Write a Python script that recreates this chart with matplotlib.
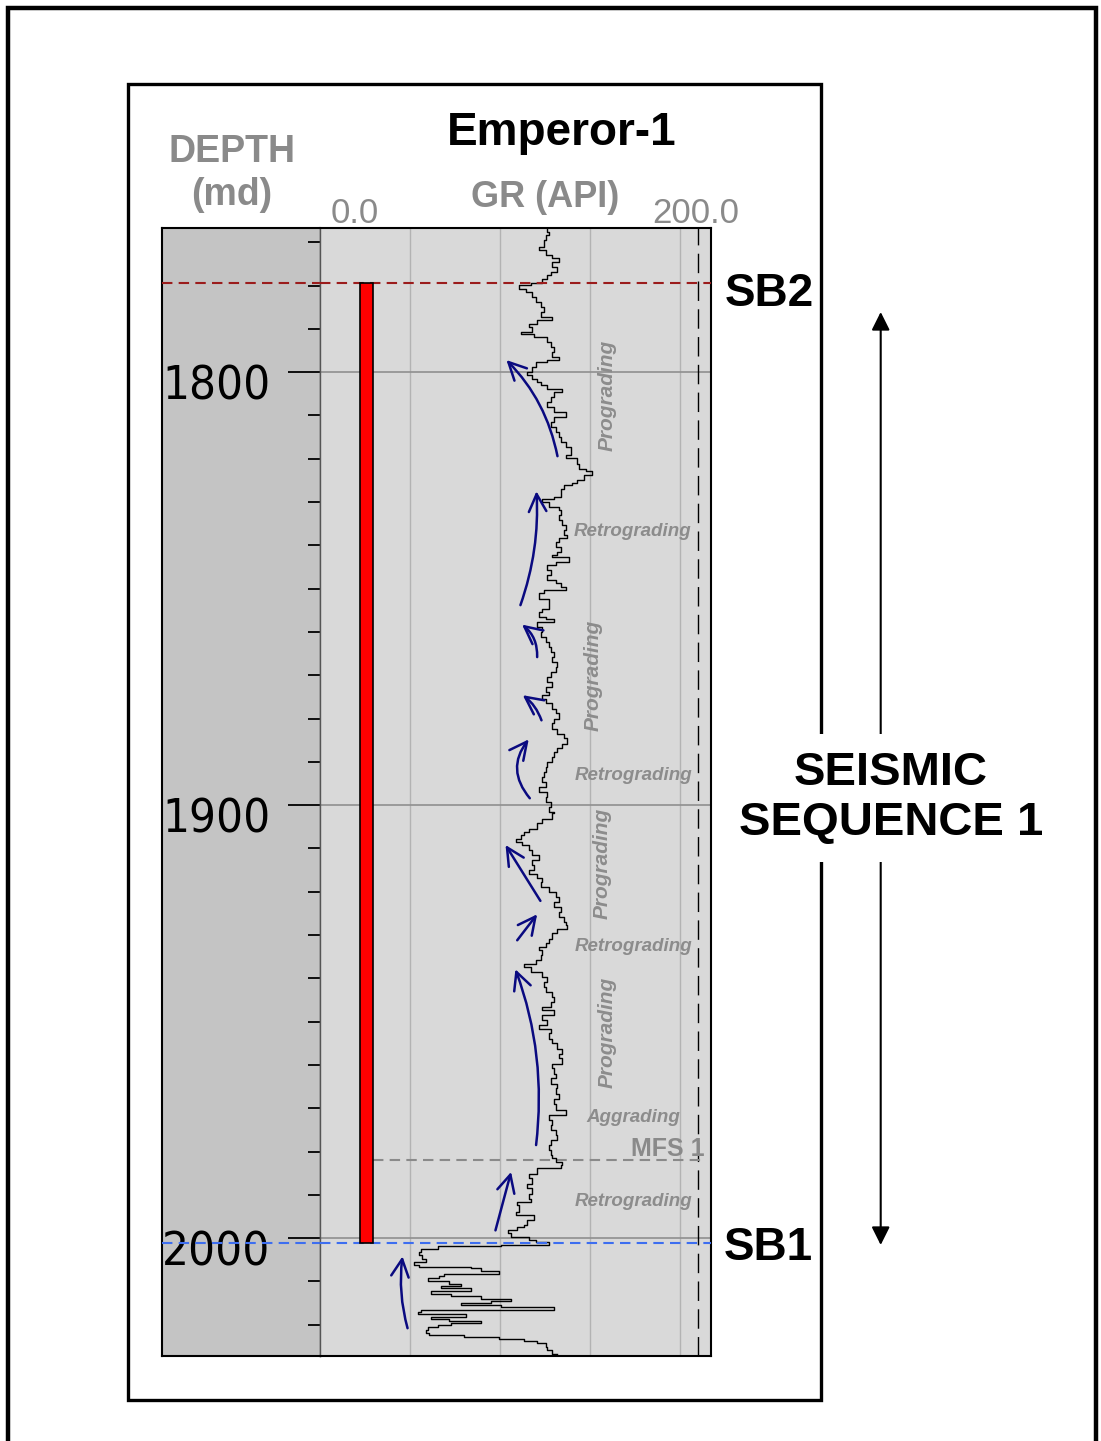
import matplotlib
matplotlib.use("Agg")
import matplotlib.pyplot as plt
import matplotlib.transforms as mtransforms
from matplotlib import font_manager
from matplotlib.patches import Rectangle, FancyArrowPatch

# ---- data ----
depth = [1766.7, 1767.6, 1768.4, 1769.5, 1771.0, 1771.8, 1773.0, 1773.7, 1774.5, 1775.7,
         1776.8, 1777.6, 1778.4, 1779.3, 1779.9, 1780.7, 1781.4, 1782.6, 1783.8, 1784.9,
         1786.1, 1787.2, 1788.0, 1788.8, 1789.5, 1790.7, 1791.1, 1791.8, 1793.0, 1794.2,
         1795.3, 1796.5, 1797.2, 1797.6, 1798.8, 1799.9, 1800.7, 1801.5, 1802.2, 1803.0,
         1803.8, 1804.5, 1805.7, 1806.9, 1808.0, 1809.2, 1810.3, 1811.5,
         1812.6, 1813.8, 1814.9, 1816.1, 1817.2, 1818.4, 1819.2, 1819.9, 1821.1, 1822.3,
         1822.8, 1823.8, 1825.0, 1825.7, 1826.1, 1826.9, 1828.0, 1828.8, 1829.4, 1830.0,
         1831.1, 1831.9, 1833.0, 1834.2, 1835.3, 1836.5, 1837.7, 1838.4, 1839.2, 1840.3,
         1841.5, 1842.3, 1842.7, 1843.8, 1844.6, 1845.7, 1846.9, 1848.1, 1848.8, 1849.6,
         1850.4, 1851.1, 1852.3, 1853.4, 1854.6, 1855.4, 1856.5,
         1856.9, 1857.7, 1858.8, 1860.0, 1861.1, 1862.3, 1863.4, 1864.6, 1865.7, 1866.9,
         1868.1, 1869.2, 1870.4, 1871.5, 1872.7, 1873.8, 1874.6, 1875.4, 1876.5, 1877.7,
         1878.8, 1880.0, 1881.1, 1882.3, 1883.5, 1884.6, 1885.8, 1886.9, 1887.7, 1888.8,
         1890.0, 1891.2, 1892.3, 1893.5, 1894.6, 1895.8, 1896.9, 1898.1, 1899.2, 1900.4,
         1901.5,
         1901.9, 1903.1, 1904.2, 1905.4, 1906.2, 1906.9, 1907.7, 1908.5, 1909.2, 1910.4,
         1911.5, 1912.7, 1913.9, 1915.0, 1915.8, 1916.9, 1917.7, 1918.9, 1920.0, 1921.2,
         1922.3, 1923.5, 1924.6, 1925.8, 1926.9, 1927.7, 1928.5, 1929.6, 1930.8, 1931.9,
         1932.7, 1933.5, 1934.6, 1935.8, 1936.6, 1937.3, 1938.5, 1939.7, 1940.8, 1942.0,
         1943.1, 1944.3, 1945.4, 1946.6,
         1947.3, 1948.5, 1949.7, 1950.8, 1951.6, 1952.7, 1953.9, 1955.0, 1956.2, 1957.4,
         1958.5, 1959.7, 1960.8, 1962.0, 1963.1, 1964.3, 1965.4, 1966.6, 1967.8, 1968.9,
         1970.5, 1971.6, 1972.8, 1973.9, 1975.1, 1976.2, 1977.4, 1978.5, 1979.7, 1980.8,
         1981.6, 1982.4, 1983.2, 1983.9, 1985.1, 1986.2, 1987.4, 1988.5, 1989.7, 1990.9,
         1991.6, 1992.4, 1993.9, 1994.7, 1995.8, 1997.0, 1997.4, 1998.2, 1998.9, 1999.7,
         2000.5, 2001.0, 2001.5, 2001.8, 2002.4, 2003.2, 2003.9, 2004.7, 2005.5, 2006.2,
         2006.6, 2007.0, 2007.5, 2008.2, 2008.8, 2009.3, 2009.9, 2010.5, 2011.1, 2011.6,
         2012.2, 2012.8, 2013.4, 2014.0, 2014.5, 2014.9, 2015.5, 2016.0, 2016.5, 2017.0,
         2017.6, 2018.2, 2018.6, 2019.1, 2019.6, 2020.1, 2020.6, 2021.2, 2021.9, 2022.4,
         2022.8, 2023.2, 2023.7, 2024.3, 2025.1, 2025.9, 2026.8]

gr = [126.5, 127.4, 125.6, 124.6, 121.9, 125.6, 129.3, 133.0, 129.3, 132.0,
      128.3, 126.5, 123.7, 117.2, 110.7, 114.4, 118.2, 120.0, 122.8, 124.6,
      122.8, 129.3, 120.9, 116.3, 118.2, 111.7, 119.1, 126.5, 128.3, 130.2,
      129.3, 133.0, 126.5, 120.0, 118.2, 115.4, 118.2, 120.9, 122.8, 126.5,
      134.8, 130.2, 128.3, 126.5, 130.2, 136.7, 130.2, 128.3,
      131.1, 133.0, 133.9, 136.7, 139.4, 139.4, 136.7, 143.2, 144.1, 147.8,
      151.5, 146.9, 143.2, 140.4, 135.7, 133.9, 133.9, 130.2, 123.7, 127.4,
      133.0, 133.9, 133.0, 134.8, 136.7, 135.7, 137.6, 133.0, 131.1, 133.9,
      132.0, 129.3, 138.5, 131.1, 126.5, 128.3, 126.5, 131.1, 133.9, 136.7,
      124.6, 121.9, 127.4, 127.4, 123.7, 121.9, 125.6,
      130.2, 120.9, 123.7, 122.8, 125.6, 127.4, 128.3, 130.2, 129.3, 132.0,
      131.1, 128.3, 126.5, 129.3, 125.6, 127.4, 123.7, 125.6, 129.3, 131.1,
      133.0, 130.2, 129.3, 132.0, 135.7, 137.6, 134.8, 132.0, 130.2, 129.3,
      126.5, 125.6, 124.6, 123.7, 125.6, 121.9, 126.5, 125.6, 128.3, 127.4,
      130.2,
      129.3, 123.7, 120.9, 116.3, 113.5, 111.7, 108.9, 112.6, 116.3, 118.2,
      121.9, 118.2, 119.1, 116.3, 120.9, 123.7, 122.8, 127.4, 131.1, 133.0,
      130.2, 133.9, 133.0, 135.7, 136.7, 137.6, 132.0, 129.3, 127.4, 125.6,
      121.9, 123.7, 122.8, 120.0, 113.5, 117.2, 123.7, 126.5, 124.6, 125.6,
      129.3, 130.2, 128.3, 123.7,
      130.2, 123.7, 126.5, 121.9, 128.3, 127.4, 129.3, 132.0, 134.8, 133.0,
      134.8, 129.3, 130.2, 131.1, 128.3, 132.0, 131.1, 133.0, 130.2, 131.1,
      136.7, 127.4, 129.3, 128.3, 131.1, 132.0, 128.3, 127.4, 128.3, 129.3,
      131.1, 134.8, 133.9, 120.9, 116.3, 118.2, 115.4, 118.2, 116.3, 117.2,
      109.8, 110.7, 108.9, 119.1, 115.4, 113.5, 109.8, 104.3, 106.1, 116.3,
      120.0, 127.4, 100.6, 65.4, 56.1, 55.2, 57.0, 58.9, 52.4, 55.2,
      83.9, 89.4, 99.6, 69.1, 66.3, 59.8, 71.9, 78.3, 67.2, 83.9,
      61.7, 72.8, 89.4, 106.1, 95.0, 78.3, 100.6, 130.2, 56.1, 54.3,
      81.1, 61.7, 71.9, 89.4, 72.8, 65.4, 59.8, 58.9, 60.7, 80.2,
      99.6, 113.5, 120.9, 125.6, 126.5, 129.3, 132.0]

sb2_depth = 1779.4
sb1_depth = 2001.2
mfs_depth = 1982.0
depth_labels = [1800, 1900, 2000]
minor_depths = list(range(1770, 2030, 10))
gr_grid = [50, 100, 150, 200]

# trend arrows: (tail gr, tail depth, tip gr, tip depth, curvature)
trend_arrows = [
    (132.1, 1819.4, 103.7, 1797.2, 0.15),
    (111.5, 1853.8, 120.4, 1827.5, 0.1),
    (120.8, 1865.8, 112.4, 1858.3, 0.25),
    (123.2, 1880.4, 112.8, 1874.6, 0.15),
    (116.7, 1898.4, 116.1, 1884.8, -0.4),
    (122.6, 1922.1, 103.2, 1909.2, 0.0),
    (109.7, 1931.2, 120.8, 1925.2, 0.0),
    (120.2, 1978.5, 108.7, 1937.9, 0.12),
    (97.6, 1998.2, 106.3, 1984.7, 0.0),
    (48.7, 2020.8, 45.9, 2004.2, -0.1),
]

# pattern labels: (text, gr, depth, rotation)
pattern_labels = [
    ("Prograding", 159.8, 1805.3, 90),
    ("Retrograding", 173.7, 1836.9, 0),
    ("Prograding", 152.1, 1870.0, 90),
    ("Retrograding", 174.3, 1893.1, 0),
    ("Prograding", 157.1, 1913.4, 90),
    ("Retrograding", 174.3, 1932.6, 0),
    ("Prograding", 159.8, 1952.4, 90),
    ("Aggrading", 174.3, 1972.1, 0),
    ("Retrograding", 174.3, 1991.5, 0),
]

W, H = 1101, 1441
fig = plt.figure(figsize=(W / 100, H / 100), dpi=100)
fig.patch.set_facecolor("white")


def frac_box(x0, y0, x1, y1):
    return [x0 / W, 1 - y1 / H, (x1 - x0) / W, (y1 - y0) / H]


def fx(x):
    return x / W


def fy(y):
    return 1 - y / H


plt.rcParams["font.family"] = ["Liberation Sans", "DejaVu Sans"]

# the depth numbers are set in a condensed face; pick whatever is installed
installed = font_manager.fontManager.ttflist
names = {f.name for f in installed}
dejavu_cond = any(f.name == "DejaVu Sans" and str(f.stretch) in ("condensed", "semi-condensed", "500", "600")
                  for f in installed)
if "Liberation Sans Narrow" in names:
    depth_font = dict(family="Liberation Sans Narrow", fontsize=38)
elif dejavu_cond:
    depth_font = dict(family="DejaVu Sans", fontstretch="condensed", fontsize=34)
else:
    depth_font = dict(family="Liberation Sans", fontsize=31, fontstretch="condensed")

# frames
fig.add_artist(Rectangle((fx(8), fy(1480)), fx(1096) - fx(8), fy(8) - fy(1480),
                         transform=fig.transFigure, fill=False, ec="black", lw=3.2, zorder=1))
fig.add_artist(Rectangle((fx(128), fy(1400)), fx(821) - fx(128), fy(84) - fy(1400),
                         transform=fig.transFigure, fill=False, ec="black", lw=2.4, zorder=1))

ax_d = fig.add_axes(frac_box(162, 228, 320, 1355.5))
ax = fig.add_axes(frac_box(320, 228, 711, 1355.5))
for a in (ax_d, ax):
    a.set_ylim(2027.1, 1766.7)
    a.set_zorder(2)
    for s in a.spines.values():
        s.set_linewidth(1.5)
ax_d.set_facecolor("#c4c4c4")
ax.set_facecolor("#d9d9d9")
ax_d.spines["right"].set_color("#555555")
ax_d.spines["right"].set_linewidth(1.0)
ax.spines["left"].set_color("#555555")
ax.spines["left"].set_linewidth(1.0)

# depth track ticks
ax_d.set_xticks([])
ax_d.yaxis.tick_right()
ax_d.set_yticks(depth_labels)
ax_d.set_yticks(minor_depths, minor=True)
ax_d.tick_params(axis="y", which="major", direction="in", length=23, width=1.3,
                 labelright=False, color="black")
ax_d.tick_params(axis="y", which="minor", direction="in", length=8.6, width=1.3,
                 color="black")
blend = mtransforms.blended_transform_factory(ax_d.transAxes, ax_d.transData)
for d in depth_labels:
    ax_d.text(0.685, d + 6.4, str(d), transform=blend, ha="right", va="baseline",
              color="black", **depth_font)

# GR track
ax.set_xlim(0, 217.5)
ax.set_xticks([])
ax.set_yticks([])
for g in gr_grid:
    ax.axvline(g, color="#b3b3b3", lw=1.0, zorder=1)
for d in depth_labels:
    ax.axhline(d, color="#8f8f8f", lw=1.2, zorder=1)
ax.axvline(210.5, color="black", lw=1.0, dashes=(14, 6), zorder=2)

ax.plot(gr, depth, color="black", lw=1.0, drawstyle="steps-pre", zorder=4)

# surfaces
for a in (ax_d, ax):
    a.axhline(sb2_depth, color="#9b1c1c", lw=1.5, dashes=(5, 3), zorder=5)
    a.axhline(sb1_depth, color="#3d6ef0", lw=1.5, dashes=(5, 3), zorder=5)
ax.plot([29.3, 212.6], [mfs_depth, mfs_depth], color="#8a8a8a", lw=1.5,
        dashes=(5, 3), zorder=3)

# red interval bar
ax.bar(25.7, sb1_depth - sb2_depth, width=7.2, bottom=sb2_depth,
       color="#ff0000", edgecolor="black", lw=1.2, zorder=6)

# trend arrows
for x0, y0, x1, y1, rad in trend_arrows:
    ax.annotate("", xy=(x1, y1), xytext=(x0, y0),
                arrowprops=dict(arrowstyle="->,head_length=0.9,head_width=0.45",
                                color="#0a0a80", lw=1.8, mutation_scale=14,
                                connectionstyle=f"arc3,rad={rad}",
                                shrinkA=0, shrinkB=0),
                zorder=7)

for txt, g, d, rot in pattern_labels:
    ax.text(g, d, txt, rotation=rot, ha="center", va="center",
            fontsize=15 if rot else 13.5,
            style="italic", weight="bold", color="#8c8c8c", zorder=7)
ax.text(193.2, 1979.4, "MFS 1", ha="center", va="center", fontsize=18,
        weight="bold", color="#8a8a8a", zorder=7)

# header
fig.text(fx(562), fy(145), "Emperor-1", ha="center", va="baseline", fontsize=33,
         weight="bold", color="black")
fig.text(fx(232), fy(162), "DEPTH", ha="center", va="baseline", fontsize=27,
         weight="bold", color="#8a8a8a")
fig.text(fx(232), fy(205), "(md)", ha="center", va="baseline", fontsize=27,
         weight="bold", color="#8a8a8a")
fig.text(fx(545), fy(207), "GR (API)", ha="center", va="baseline", fontsize=26,
         weight="bold", color="#8a8a8a")
fig.text(fx(355), fy(223), "0.0", ha="center", va="baseline", fontsize=25,
         color="#8a8a8a")
fig.text(fx(696), fy(223), "200.0", ha="center", va="baseline", fontsize=25,
         color="#8a8a8a")

fig.text(fx(725), fy(306), "SB2", ha="left", va="baseline", fontsize=33,
         weight="bold", color="black")
fig.text(fx(724), fy(1260), "SB1", ha="left", va="baseline", fontsize=33,
         weight="bold", color="black")

# sequence arrow
fig.add_artist(FancyArrowPatch((fx(880.7), fy(312)), (fx(880.7), fy(1245)),
                               transform=fig.transFigure,
                               arrowstyle="<|-|>,head_length=1.0,head_width=0.5",
                               mutation_scale=11, color="black", lw=1.5,
                               shrinkA=0, shrinkB=0, zorder=3))
fig.text(fx(891), fy(798), "SEISMIC\nSEQUENCE 1", ha="center", va="center",
         fontsize=34, weight="bold", color="black", linespacing=1.2,
         bbox=dict(boxstyle="square,pad=0.35", fc="white", ec="none"), zorder=6)

fig.savefig("out.png", dpi=100)
